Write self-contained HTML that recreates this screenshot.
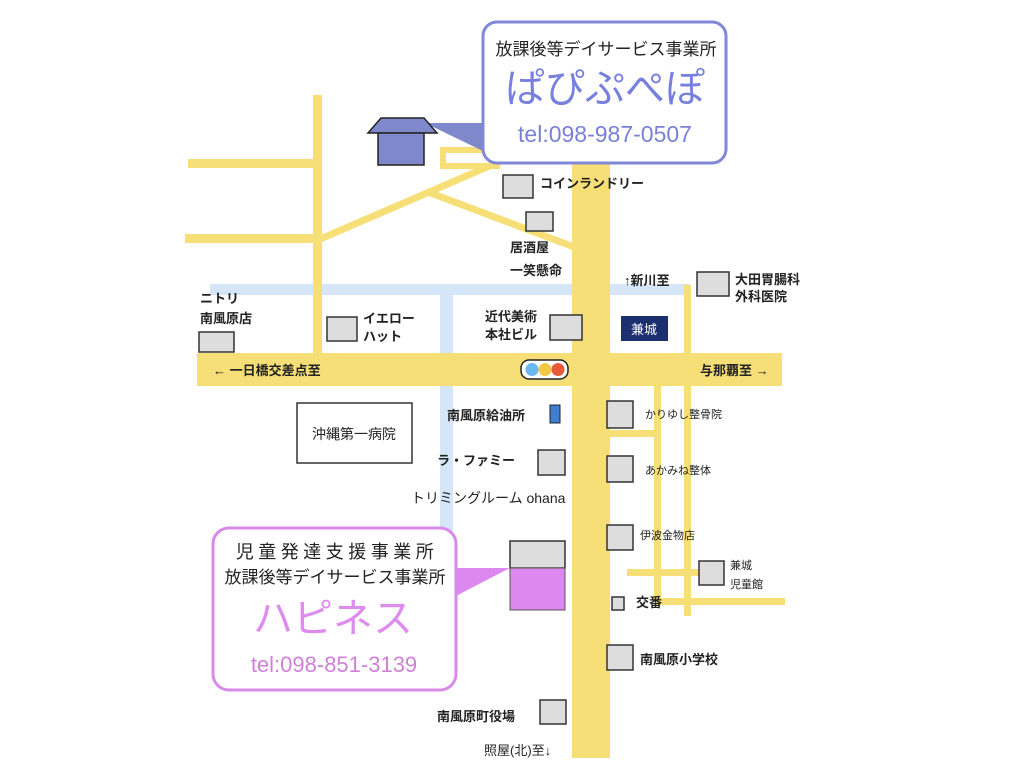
<!DOCTYPE html>
<html><head><meta charset="utf-8"><style>
html,body{margin:0;padding:0;background:#fff;}
svg{display:block}
text{font-family:"Liberation Sans","Noto Sans CJK JP",sans-serif;fill:#222;}
.b{font-weight:bold;font-size:13px;}
.s{font-size:11px;}
</style></head><body>
<svg width="1024" height="768" viewBox="0 0 1024 768">
<rect width="1024" height="768" fill="#fff"/>
<rect x="210" y="284" width="480" height="11" fill="#d4e6f8"/>
<rect x="440" y="290" width="13" height="250" fill="#d4e6f8"/>
<g fill="#f7df78">
<rect x="313" y="95" width="9" height="262"/>
<rect x="188" y="159" width="130" height="9"/>
<rect x="185" y="234" width="133" height="9"/>
<rect x="572" y="140" width="38" height="618"/>
<rect x="197" y="353" width="585" height="33"/>
<rect x="684" y="285" width="7" height="70"/>
<rect x="654" y="386" width="7" height="220"/>
<rect x="684" y="386" width="7" height="230"/>
<rect x="610" y="430" width="50" height="7"/>
<rect x="627" y="569" width="73" height="7"/>
<rect x="660" y="598" width="125" height="7"/>
</g>
<g stroke="#f7df78" fill="none">
<line x1="318" y1="240" x2="545" y2="142" stroke-width="7"/>
<line x1="428" y1="192" x2="574" y2="247" stroke-width="7"/>
<path d="M485 150 H443 V166 H500" stroke-width="6"/>
</g>
<polygon points="425,123 485,123 485,152" fill="#8088cc"/>
<polygon points="368,133 381,118 424,118 437,133" fill="#8088cc" stroke="#222" stroke-width="1.5"/>
<rect x="378" y="133" width="46" height="32" fill="#8088cc" stroke="#222" stroke-width="1.5"/>
<rect x="483" y="22" width="243" height="141" rx="14" fill="#fff" stroke="#8088d8" stroke-width="3"/>
<text x="606" y="55" text-anchor="middle" font-size="17" fill="#333">放課後等デイサービス事業所</text>
<text x="605" y="102" text-anchor="middle" font-size="40" style="fill:#7880dd">ぱぴぷぺぽ</text>
<text x="605" y="142" text-anchor="middle" font-size="23" style="fill:#7880d8">tel:098-987-0507</text>
<g fill="#ddd" stroke="#333" stroke-width="1.5">
<rect x="503" y="175" width="30" height="23"/>
<rect x="526" y="212" width="27" height="19"/>
<rect x="697" y="272" width="32" height="24"/>
<rect x="199" y="332" width="35" height="20"/>
<rect x="327" y="317" width="30" height="24"/>
<rect x="550" y="315" width="32" height="25"/>
<rect x="538" y="450" width="27" height="25"/>
<rect x="607" y="401" width="26" height="27"/>
<rect x="607" y="456" width="26" height="26"/>
<rect x="607" y="525" width="26" height="25"/>
<rect x="699" y="561" width="25" height="24"/>
<rect x="612" y="597" width="12" height="13"/>
<rect x="607" y="645" width="26" height="25"/>
<rect x="540" y="700" width="26" height="24"/>
<rect x="510" y="541" width="55" height="27"/>
</g>
<rect x="510" y="568" width="55" height="42" fill="#dd88f0" stroke="#555" stroke-width="1"/>
<rect x="297" y="403" width="115" height="60" fill="#fff" stroke="#333" stroke-width="1.5"/>
<text x="354" y="439" text-anchor="middle" font-size="14">沖縄第一病院</text>
<rect x="621" y="316" width="47" height="25" fill="#1c2f6e"/>
<text x="644" y="334" text-anchor="middle" font-size="13" style="fill:#fff">兼城</text>
<rect x="550" y="405" width="10" height="18" fill="#3d7fd0" stroke="#223" stroke-width="1"/>
<rect x="521" y="360" width="47" height="19" rx="8" fill="#fff" stroke="#222" stroke-width="1.5"/>
<circle cx="532" cy="369.5" r="6.5" fill="#6ab8f0"/>
<circle cx="545" cy="369.5" r="6.5" fill="#f2c844"/>
<circle cx="558" cy="369.5" r="6.5" fill="#e85a3a"/>
<text x="540" y="188" class="b">コインランドリー</text>
<text x="510" y="252" class="b">居酒屋</text>
<text x="510" y="275" class="b">一笑懸命</text>
<text x="624" y="285" class="b">↑新川至</text>
<text x="735" y="284" class="b">大田胃腸科</text>
<text x="735" y="301" class="b">外科医院</text>
<text x="200" y="303" class="b">ニトリ</text>
<text x="200" y="323" class="b">南風原店</text>
<text x="363" y="323" class="b">イエロー</text>
<text x="363" y="341" class="b">ハット</text>
<text x="485" y="321" class="b">近代美術</text>
<text x="485" y="339" class="b">本社ビル</text>
<text x="213" y="375" class="b">← 一日橋交差点至</text>
<text x="700" y="375" class="b">与那覇至 →</text>
<text x="447" y="420" class="b">南風原給油所</text>
<text x="437" y="465" class="b">ラ・ファミー</text>
<text x="411" y="503" font-size="14">トリミングルーム ohana</text>
<text x="645" y="418" class="s">かりゆし整骨院</text>
<text x="645" y="474" class="s">あかみね整体</text>
<text x="640" y="539" class="s">伊波金物店</text>
<text x="730" y="569" class="s">兼城</text>
<text x="730" y="588" class="s">児童館</text>
<text x="636" y="607" class="b">交番</text>
<text x="640" y="664" class="b">南風原小学校</text>
<text x="437" y="721" class="b">南風原町役場</text>
<text x="484" y="755" font-size="13">照屋(北)至↓</text>
<polygon points="454,568 510,568 454,597" fill="#dd88f0"/>
<rect x="213" y="528" width="243" height="162" rx="16" fill="#fff" stroke="#d88ae8" stroke-width="3"/>
<text x="337" y="558" text-anchor="middle" font-size="18" letter-spacing="4.5" fill="#222">児童発達支援事業所</text>
<text x="335" y="583" text-anchor="middle" font-size="17" fill="#333">放課後等デイサービス事業所</text>
<text x="333" y="632" text-anchor="middle" font-size="40" style="fill:#dd8cee">ハピネス</text>
<text x="334" y="672" text-anchor="middle" font-size="22" style="fill:#d080d8">tel:098-851-3139</text>
</svg>
</body></html>
